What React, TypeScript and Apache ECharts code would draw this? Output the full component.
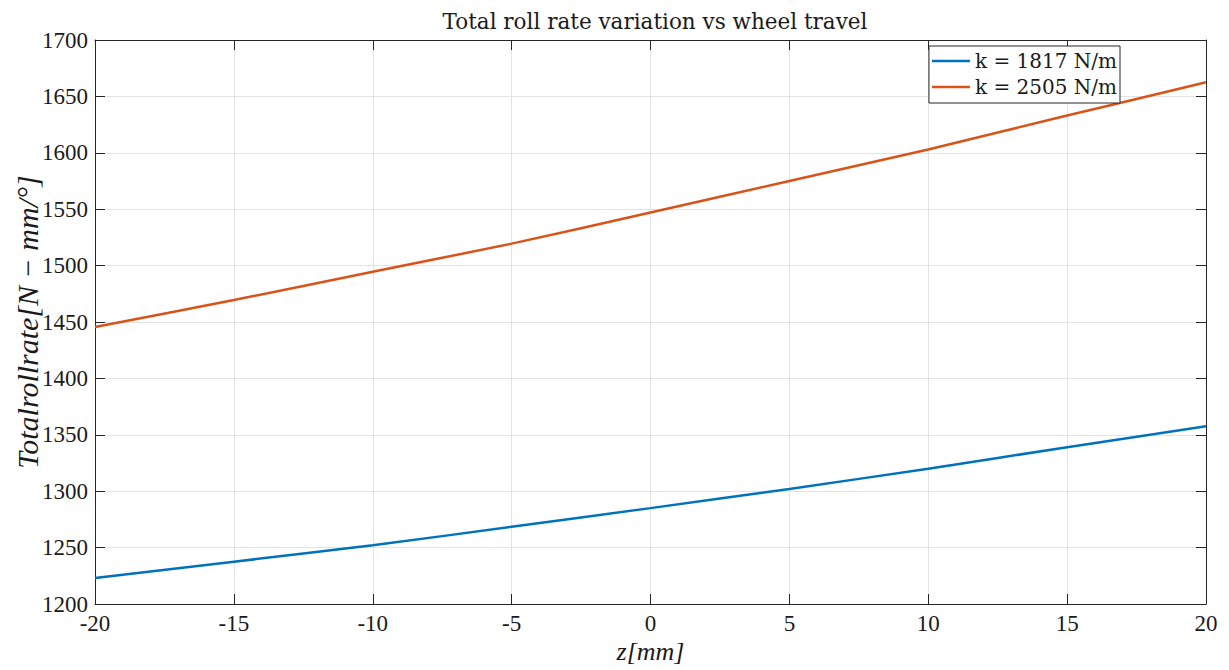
import React, { useEffect, useRef } from "react";
import * as echarts from "echarts";

const zTravel = [-20, -15, -10, -5, 0, 5, 10, 15, 20];
const rate1817 = [1223, 1237.5, 1252, 1268.5, 1285, 1302, 1320, 1339, 1357.5];
const rate2505 = [1445.5, 1469.5, 1494.5, 1519.5, 1547, 1575, 1603, 1633, 1662.5];
const seriesNames = ["k = 1817 N/m", "k = 2505 N/m"];
const seriesColors = ["#0072BD", "#D95319"];

const SERIF = "Liberation Serif";
const WIDE_SERIF = "DejaVu Serif";
const AXIS_COLOR = "#262626";
const TEXT_COLOR = "#1a1a1a";
const GRID_COLOR = "#e3e3e3";

export default function App() {
  const ref = useRef<HTMLDivElement>(null);
  useEffect(() => {
    if (!ref.current) return;
    const chart = echarts.init(ref.current, undefined, { renderer: "svg" });
    const baseX = {
      type: "value",
      min: -20,
      max: 20,
      interval: 5,
      axisLine: { show: true, onZero: false, lineStyle: { color: AXIS_COLOR, width: 1 } },
      axisTick: { show: true, inside: true, length: 10, lineStyle: { color: AXIS_COLOR } },
    };
    const baseY = {
      type: "value",
      min: 1200,
      max: 1700,
      interval: 50,
      axisLine: { show: true, onZero: false, lineStyle: { color: AXIS_COLOR, width: 1 } },
      axisTick: { show: true, inside: true, length: 10, lineStyle: { color: AXIS_COLOR } },
    };
    const labelStyle = {
      fontFamily: SERIF,
      fontSize: 23,
      color: TEXT_COLOR,
      formatter: (v: number) => String(v),
    };
    chart.setOption({
      animation: false,
      backgroundColor: "#ffffff",
      textStyle: { fontFamily: SERIF },
      title: {
        text: "Total roll rate variation vs wheel travel",
        left: 650,
        textAlign: "center",
        top: 5,
        textStyle: { fontFamily: WIDE_SERIF, fontWeight: "normal", fontSize: 21.5, color: TEXT_COLOR },
      },
      legend: {
        orient: "vertical",
        right: 109,
        top: 46,
        itemWidth: 38,
        itemHeight: 14,
        itemGap: 4,
        padding: [4, 3, 5, 3],
        backgroundColor: "#ffffff",
        borderColor: AXIS_COLOR,
        borderWidth: 1,
        borderRadius: 0,
        textStyle: { fontFamily: WIDE_SERIF, fontSize: 20, lineHeight: 22, color: TEXT_COLOR },
        data: seriesNames.map((n) => ({ name: n, icon: "path://M0,6 L38,6 L38,8.4 L0,8.4 Z" })),
      },
      grid: { left: 95, right: 23, top: 40, bottom: 66, containLabel: false, outerBoundsMode: "none" },
      xAxis: [
        {
          ...baseX,
          position: "bottom",
          name: "z[mm]",
          nameLocation: "middle",
          nameGap: 34,
          nameMoveOverlap: false,
          nameTextStyle: { fontFamily: SERIF, fontStyle: "italic", fontSize: 26, color: TEXT_COLOR },
          axisLabel: { ...labelStyle, margin: 8 },
          splitLine: { show: true, lineStyle: { color: GRID_COLOR, width: 1 } },
        },
        {
          ...baseX,
          position: "top",
          axisLabel: { show: false },
          splitLine: { show: false },
        },
      ],
      yAxis: [
        {
          ...baseY,
          position: "left",
          name: "Totalrollrate[N − mm/°]",
          nameLocation: "middle",
          nameGap: 53,
          nameMoveOverlap: false,
          nameTextStyle: { fontFamily: SERIF, fontStyle: "italic", fontSize: 30, color: TEXT_COLOR },
          axisLabel: { ...labelStyle, margin: 7 },
          splitLine: { show: true, lineStyle: { color: GRID_COLOR, width: 1 } },
        },
        {
          ...baseY,
          position: "right",
          axisLabel: { show: false },
          splitLine: { show: false },
        },
      ],
      series: [rate1817, rate2505].map((vals, i) => ({
        name: seriesNames[i],
        type: "line",
        xAxisIndex: 0,
        yAxisIndex: 0,
        data: zTravel.map((z, j) => [z, vals[j]]),
        showSymbol: false,
        symbol: "none",
        smooth: 0.2,
        color: seriesColors[i],
        lineStyle: { color: seriesColors[i], width: 2.5 },
      })),
    });
    return () => chart.dispose();
  }, []);
  return (
    <div
      ref={ref}
      style={{ position: "absolute", left: 0, top: 0, width: 1229, height: 670, background: "#fff" }}
    />
  );
}
